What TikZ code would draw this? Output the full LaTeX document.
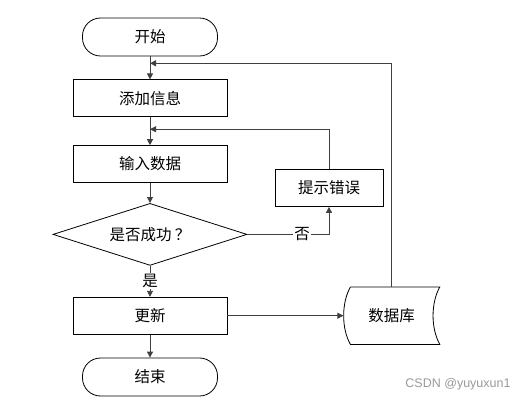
\documentclass[tikz,border=0pt]{standalone}
\usepackage{fontspec}
\setmainfont{Noto Sans CJK SC}
\newfontfamily\marksans{Liberation Sans}
\usetikzlibrary{arrows.meta,positioning,shapes.geometric,calc}

\begin{document}
\begin{tikzpicture}[
  x=1pt, y=-1pt,
  font=\fontsize{15.5}{18}\selectfont,
  terminal/.style={draw=black, line width=0.8pt, rounded corners=18pt,
    minimum width=135pt, minimum height=38pt, inner sep=0pt},
  process/.style={draw=black, line width=0.8pt, minimum width=154pt,
    minimum height=37pt, inner sep=0pt},
  decision/.style={diamond, draw=black, line width=0.8pt, aspect=3.1,
    minimum width=194pt, minimum height=62pt, inner sep=0pt},
  store/.style={minimum width=96pt, minimum height=57pt, inner sep=0pt},
  arrow/.style={-{Triangle[length=6pt, width=6pt]}, line width=0.9pt, draw=black!75},
  tag/.style={fill=white, inner sep=1pt}
]
\useasboundingbox (0,0) rectangle (528,401);

% main column
\node[terminal] (start) at (150,37) {开始};
\node[process, below=23pt of start] (add) {添加信息};
\node[process, below=28pt of add] (input) {输入数据};
\node[decision, below=20pt of input] (check) {是否成功 ？};
\node[process, below=31pt of check] (update) {更新};
\node[terminal, below=23pt of update] (finish) {结束};

% side nodes
\node[process, minimum width=108pt] (hint) at (329,188) {提示错误};
\node[store, right=116pt of update] (db) {数据库};
\draw[line width=0.8pt] ([xshift=7pt]db.north west) -- (db.north east)
  .. controls ([xshift=-9pt, yshift=-16pt]db.north east) and ([xshift=-9pt, yshift=16pt]db.south east) .. (db.south east)
  -- ([xshift=7pt]db.south west)
  .. controls ([xshift=-2pt, yshift=16pt]db.south west) and ([xshift=-2pt, yshift=-16pt]db.north west) .. ([xshift=7pt]db.north west);

\coordinate (j1) at ($(start.south)!0.3!(add.north)$);
\coordinate (j2) at ($(add.south)!0.43!(input.north)$);

\draw[arrow] (start) -- (add);
\draw[arrow] (add) -- (input);
\draw[arrow] (input) -- (check);
\draw[arrow] (check) -- node[tag] {是} (update);
\draw[arrow] (update) -- (finish);
\draw[arrow] (check.east) -| node[tag, pos=0.335] {否} (hint.south);
\draw[arrow] (hint.north) |- (j2);
\draw[arrow] (update) -- (db);
\draw[arrow] (db.north) |- (j1);

\node[font=\marksans\fontsize{12.5}{14}\selectfont, text=black!40] (mark) at (458,384) {CSDN @yuyuxun1};
\end{tikzpicture}
\end{document}
